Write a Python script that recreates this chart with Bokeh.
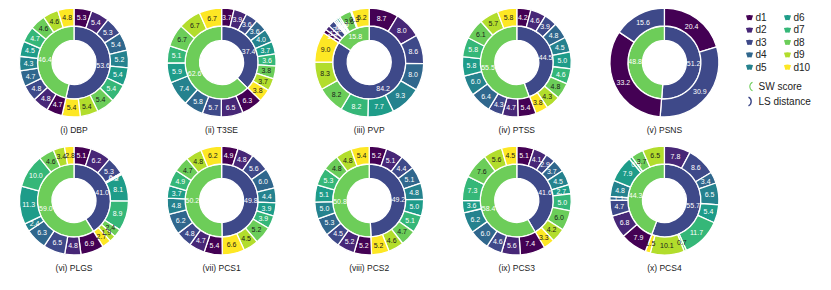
import numpy as np
from bokeh.plotting import figure
from bokeh.models import ColumnDataSource, Range1d
from bokeh.embed import file_html
from bokeh.resources import INLINE
from bokeh.core.properties import value
from bokeh.palettes import Viridis10

# ---------------- data ----------------
levels = ["d1", "d2", "d3", "d4", "d5", "d6", "d7", "d8", "d9", "d10"]
titles = ["(i) DBP", "(ii) T3SE", "(iii) PVP", "(iv) PTSS", "(v) PSNS",
          "(vi) PLGS", "(vii) PCS1", "(viii) PCS2", "(ix) PCS3", "(x) PCS4"]
ls_distance = [53.6, 37.4, 84.2, 44.5, 51.2, 41.0, 49.8, 49.2, 41.6, 55.7]
sw_score = [46.4, 62.6, 15.8, 55.5, 48.8, 59.0, 50.2, 50.8, 58.4, 44.3]

dbp_ls = [5.3, 5.4, 5.3, 5.4, 5.2, 5.4, 5.4, 5.4, 5.4, 5.4]
dbp_sw = [4.7, 4.8, 4.8, 4.7, 4.3, 4.5, 4.7, 4.6, 4.6, 4.8]
t3se_ls = [3.7, 3.9, 3.6, 3.6, 4.0, 3.7, 3.6, 3.8, 3.7, 3.8]
t3se_sw = [6.3, 6.5, 5.7, 5.8, 7.4, 5.9, 5.1, 6.7, 6.7, 6.7]
pvp_ls = [8.7, 8.0, 8.6, 8.0, 9.3, 7.7, 8.2, 8.2, 8.3, 9.0]
pvp_sw = [1.2, 1.4, 2.0, 0.5, 0.5, 0.6, 0.5, 3.6, 0.3, 5.2]
ptss_ls = [4.2, 4.6, 3.9, 4.8, 4.5, 5.0, 4.6, 4.8, 4.3, 3.8]
ptss_sw = [5.4, 4.7, 4.3, 6.4, 6.0, 5.8, 5.8, 6.1, 5.7, 5.8]
psns_ls = [20.4, 0.0, 30.9, 0.0, 0.0, 0.0, 0.0, 0.0, 0.0, 0.0]
psns_sw = [33.2, 0.0, 15.6, 0.0, 0.0, 0.0, 0.0, 0.0, 0.0, 0.0]
plgs_ls = [5.1, 6.2, 5.3, 0.3, 0.2, 8.1, 8.9, 2.4, 1.9, 2.7]
plgs_sw = [6.9, 4.8, 6.5, 6.3, 2.4, 11.3, 10.0, 4.6, 3.4, 2.8]
pcs1_ls = [4.9, 4.8, 5.6, 6.0, 4.4, 3.9, 3.9, 5.2, 4.5, 6.6]
pcs1_sw = [5.4, 4.7, 4.8, 6.2, 4.8, 3.7, 4.9, 4.7, 4.8, 6.2]
pcs2_ls = [5.2, 5.1, 4.4, 5.1, 4.8, 5.0, 5.1, 4.7, 4.6, 5.2]
pcs2_sw = [5.2, 5.2, 4.5, 5.3, 5.0, 5.1, 5.3, 4.8, 4.8, 5.4]
pcs3_ls = [5.1, 4.1, 2.9, 3.7, 4.5, 2.7, 5.0, 6.0, 4.2, 3.3]
pcs3_sw = [7.4, 5.6, 4.6, 6.0, 6.2, 3.6, 7.3, 7.6, 5.6, 4.5]
pcs4_ls = [0.0, 7.8, 8.6, 3.4, 6.5, 5.4, 11.7, 0.7, 10.1, 1.5]
pcs4_sw = [7.9, 6.8, 4.7, 1.1, 4.8, 7.9, 0.9, 3.7, 6.5, 0.0]

outer_ls = [dbp_ls, t3se_ls, pvp_ls, ptss_ls, psns_ls,
            plgs_ls, pcs1_ls, pcs2_ls, pcs3_ls, pcs4_ls]
outer_sw = [dbp_sw, t3se_sw, pvp_sw, ptss_sw, psns_sw,
            plgs_sw, pcs1_sw, pcs2_sw, pcs3_sw, pcs4_sw]

# ---------------- styling / layout ----------------
W, H = 815, 274
FONT = "Liberation Sans"
ls_color = "#3E4989"
sw_color = "#6DCD59"
dark_text = {"d8", "d9", "d10"}

R_OUT, R_MID, R_HOLE = 54.5, 36.5, 22.0


def fx(px):
    return px - 8


def fy(py):
    return H - (py - 8)


p = figure(width=W, height=H, output_backend="svg", toolbar_location=None,
           x_range=Range1d(0, W), y_range=Range1d(0, H), min_border=0)
p.axis.visible = False
p.grid.visible = False
p.outline_line_color = None
p.background_fill_color = "white"


def arcs(vals):
    vals = np.asarray(vals, dtype=float)
    tot = vals.sum()
    c1 = np.cumsum(vals) / tot
    c0 = np.concatenate([[0.0], c1[:-1]])
    start = np.pi / 2 - 2 * np.pi * c1
    end = np.pi / 2 - 2 * np.pi * c0
    mid = (start + end) / 2
    return start, end, mid


for i in range(10):
    col, row = i % 5, i // 5
    cxp = 81.5 + 147.6 * col
    cyp = 70 if row == 0 else 208
    cx, cy = fx(cxp), fy(cyp)

    # inner ring
    inner_vals = [ls_distance[i], sw_score[i]]
    s, e, m = arcs(inner_vals)
    rl = (R_MID + R_HOLE) / 2
    src_in = ColumnDataSource(dict(
        start=s, end=e, color=[ls_color, sw_color],
        lx=cx + rl * np.cos(m), ly=cy + rl * np.sin(m),
        txt=[f"{v:.1f}" for v in inner_vals]))
    p.annular_wedge(x=cx, y=cy, inner_radius=R_HOLE, outer_radius=R_MID,
                    start_angle="start", end_angle="end", fill_color="color",
                    line_color="white", line_width=1.3, source=src_in)
    p.text(x="lx", y="ly", text="txt", source=src_in, text_color="white",
           text_font=value(FONT), text_font_size="7px",
           text_align="center", text_baseline="middle")

    # outer ring
    vals = list(outer_ls[i]) + list(outer_sw[i])
    labs = levels + levels
    s, e, m = arcs(vals)
    keep = [k for k, v in enumerate(vals) if v > 0]
    ro = (R_OUT + R_MID) / 2
    src_out = ColumnDataSource(dict(
        start=[s[k] for k in keep], end=[e[k] for k in keep],
        color=[Viridis10[k % 10] for k in keep],
        lx=[cx + ro * np.cos(m[k]) for k in keep],
        ly=[cy + ro * np.sin(m[k]) for k in keep],
        txt=[f"{vals[k]:.1f}" for k in keep],
        tc=["#1a1a1a" if labs[k] in dark_text else "white" for k in keep]))
    p.annular_wedge(x=cx, y=cy, inner_radius=R_MID, outer_radius=R_OUT,
                    start_angle="start", end_angle="end", fill_color="color",
                    line_color="white", line_width=1.3, source=src_out)
    p.text(x="lx", y="ly", text="txt", source=src_out, text_color="tc",
           text_font=value(FONT), text_font_size="7px",
           text_align="center", text_baseline="middle")

    # title
    p.text(x=[cx], y=[fy(cyp + 67)], text=[titles[i]], text_color="#222222",
           text_font=value(FONT), text_font_size="8.5px",
           text_align="center", text_baseline="middle")

# ---------------- legend ----------------
for k, lev in enumerate(levels):
    colk, rowk = k // 5, k % 5
    mxp = 757 + 38 * colk
    myp = 25 + 12.4 * rowk
    mx, my = fx(mxp), fy(myp)
    p.annular_wedge(x=[mx], y=[my - 9], inner_radius=6.5, outer_radius=11.5,
                    start_angle=np.radians(72), end_angle=np.radians(108),
                    fill_color=Viridis10[k], line_color=None)
    p.text(x=[mx + 6], y=[my], text=[lev], text_color="#222222",
           text_font=value(FONT), text_font_size="10px",
           text_align="left", text_baseline="middle")

# SW score / LS distance markers
p.annular_wedge(x=[fx(762)], y=[fy(94)], inner_radius=4.2, outer_radius=5.2,
                start_angle=np.radians(115), end_angle=np.radians(245),
                fill_color=sw_color, line_color=None)
p.text(x=[fx(766)], y=[fy(94)], text=["SW score"], text_color="#222222",
       text_font=value(FONT), text_font_size="10px",
       text_align="left", text_baseline="middle")
p.annular_wedge(x=[fx(754)], y=[fy(109)], inner_radius=4.0, outer_radius=5.4,
                start_angle=np.radians(-65), end_angle=np.radians(65),
                fill_color=ls_color, line_color=None)
p.text(x=[fx(766)], y=[fy(109)], text=["LS distance"], text_color="#222222",
       text_font=value(FONT), text_font_size="10px",
       text_align="left", text_baseline="middle")

open("out.html", "w").write(file_html(p, INLINE))
